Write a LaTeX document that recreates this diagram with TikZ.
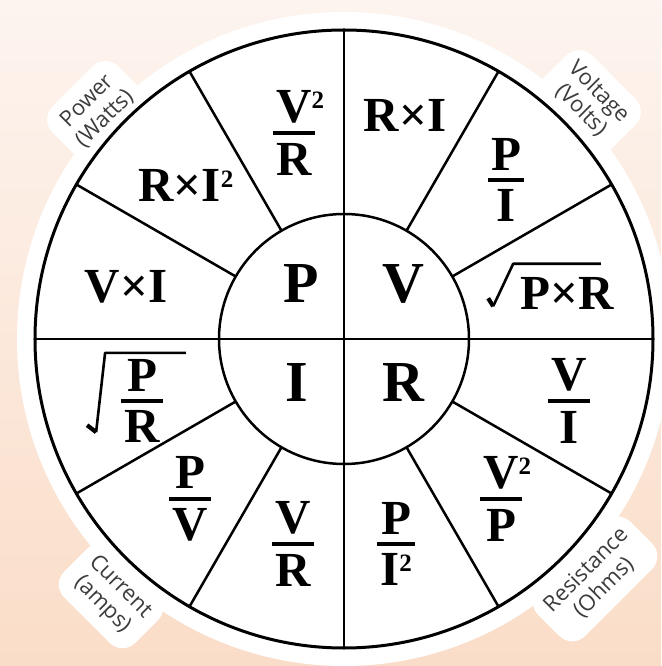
\documentclass[tikz,border=0pt]{standalone}
\usepackage{fontspec}
\setmainfont{Liberation Serif}
\newfontfamily\tagfont{Open Sans}
\usepackage{tikz}
\usetikzlibrary{positioning, calc}
\definecolor{peachtop}{HTML}{FDF4EF}
\definecolor{peachbot}{HTML}{FADDC8}
\definecolor{taggray}{HTML}{3C3C3C}
\newcommand{\frc}[2]{\vbox{\offinterlineskip\halign{\hfil\kern3pt##\kern3pt\hfil\cr#1\cr\noalign{\kern8pt\hrule height 3.8pt\kern8pt}#2\cr}}}
\newcommand{\sqd}{\raisebox{14pt}{\fontsize{25}{25}\selectfont 2}}

\begin{document}
\begin{tikzpicture}[x=1pt, y=1pt,
  rim/.style={line width=3pt},
  spoke/.style={line width=2.5pt},
  frm/.style={font=\fontsize{49}{53}\selectfont\bfseries, inner sep=0pt},
  sym/.style={font=\fontsize{58}{62}\selectfont\bfseries, inner sep=0pt},
  tag/.style={font=\tagfont\fontsize{22}{25}\selectfont, text=taggray, fill=white, rounded corners=18pt, inner sep=11pt, align=center},
  radical/.style={line width=2.6pt, line join=round},
  tick/.style={line width=4.2pt}
]
\useasboundingbox (-344,-327) rectangle (317,339);
\shade[top color=peachtop, bottom color=peachbot] (-344,-327) rectangle (317,339);

% sticker and corner tags
\fill[white] (0,0) circle (327);
\node[tag, rotate=45] (watts) at (-248,229) {Power\\(Watts)};
\node[tag, rotate=-45] (volts) at (246,238) {Voltage\\(Volts)};
\node[tag, rotate=-45] (amps) at (-233,-257) {Current\\(amps)};
\node[tag, rotate=45] (ohms) at (251,-240) {Resistance\\(Ohms)};

% wheel
\draw[rim] (0,0) circle (309);
\draw[spoke] (0,0) circle (125);
\draw[spoke] (0,309) -- (0,-309);
\draw[spoke] (-309,0) -- (309,0);
\foreach \a in {30,60,120,150,210,240,300,330}
  \draw[spoke] (\a:125) -- (\a:309);

% hub
\node[sym] (pw) at (-43,55) {P};
\node[sym] (vt) at (59,55) {V};
\node[sym] (cu) at (-47,-44) {I};
\node[sym] (rs) at (59,-44) {R};

% outer ring
\node[frm] (vvr) at (-50,206) {\frc{V\rlap{\sqd}}{R}};
\node[frm] (rxi) at (61,224) {R×I};
\node[frm] (pbi) at (162,159) {\frc{P}{I}};
\node[frm] (pxr) at (223,46) {P×R};
\node[frm] (vbi) at (225,-62) {\frc{V}{I}};
\node[frm] (vvp) at (157,-160) {\frc{V\rlap{\sqd}}{P}};
\node[frm] (pii) at (52,-205) {\frc{P}{I\sqd}};
\node[frm] (vbr) at (-51,-205) {\frc{V}{R}};
\node[frm] (pbv) at (-154,-160) {\frc{P}{V}};
\node[frm] (pbr) at (-202,-62) {\frc{P}{R}};
\node[frm] (vxi) at (-218,52) {V×I};
\node[frm] (rxii) at (-158,154) {R×I\sqd};

% root signs
\draw[tick] ($(pxr.south west)+(-32,11)$) -- ($(pxr.south west)+(-27,3)$);
\draw[radical] ($(pxr.south west)+(-27,3)$) -- ($(pxr.north west)+(-7,13)$) -- ($(pxr.north east)+(-13,13)$);
\draw[tick] ($(pbr.south west)+(-34,18)$) -- ($(pbr.south west)+(-25,11)$);
\draw[radical] ($(pbr.south west)+(-25,11)$) -- ($(pbr.north west)+(-16,6)$) -- ($(pbr.north east)+(23,6)$);
\end{tikzpicture}
\end{document}
